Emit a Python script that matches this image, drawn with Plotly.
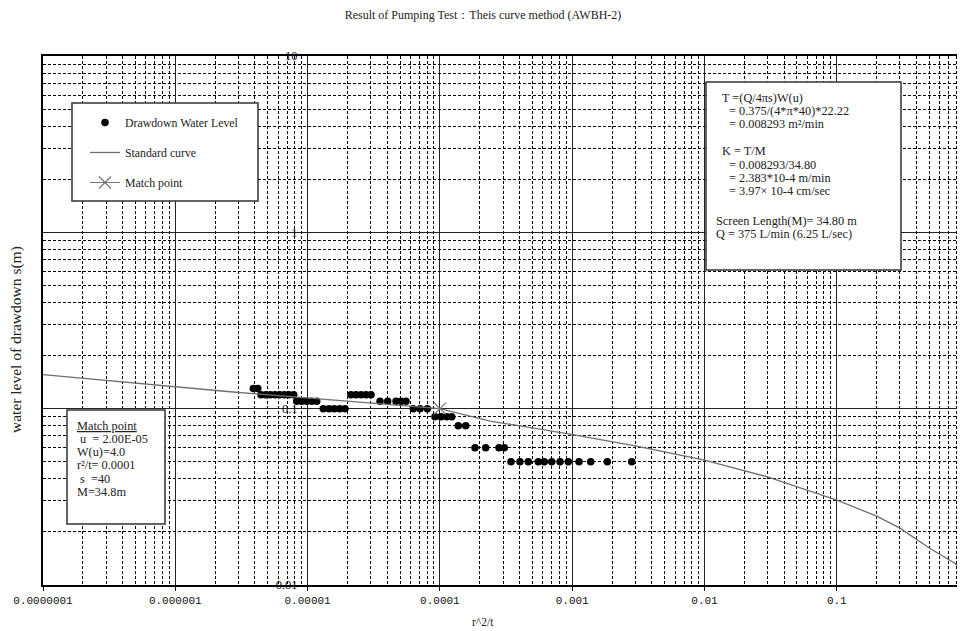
import plotly.graph_objects as go

# ---------------- data ----------------
title_text = "Result of Pumping Test\uff1aTheis curve method (AWBH-2)"
x_title = "r^2/t"
y_title = "water level of drawdown s(m)"

x_tick_vals = [1e-7, 1e-6, 1e-5, 1e-4, 1e-3, 1e-2, 1e-1]
x_tick_text = ["0.0000001", "0.000001", "0.00001", "0.0001", "0.001", "0.01", "0.1"]
y_tick_vals = [0.01, 0.1, 1, 10]
y_tick_text = ["0.01", "0.1", "1", "10"]

# observed drawdown (r^2/t , s)
drawdown_x = [
    3.89e-6, 4.20e-6,
    4.44e-6, 4.82e-6, 5.23e-6, 5.67e-6, 6.15e-6, 6.67e-6, 7.23e-6, 7.85e-6,
    8.27e-6, 9.02e-6, 9.84e-6, 1.074e-5, 1.172e-5,
    1.314e-5, 1.451e-5, 1.591e-5, 1.748e-5, 1.917e-5,
    2.128e-5, 2.322e-5, 2.533e-5, 2.763e-5, 3.015e-5,
    3.526e-5, 4.03e-5, 4.66e-5, 5.08e-5, 5.54e-5,
    6.29e-5, 7.07e-5, 8.03e-5,
    9.18e-5, 1.019e-4, 1.126e-4, 1.228e-4,
    1.377e-4, 1.567e-4,
    1.842e-4, 2.219e-4, 2.797e-4, 3.067e-4,
    3.446e-4, 4.03e-4, 4.66e-4, 5.54e-4, 6.15e-4, 7.0e-4, 8.09e-4, 9.34e-4,
    1.126e-3, 1.38e-3, 1.842e-3, 2.818e-3,
]
drawdown_y = (
    [0.13] * 2 + [0.12] * 8 + [0.11] * 5 + [0.10] * 5 + [0.12] * 5 + [0.11] * 5
    + [0.10] * 3 + [0.09] * 4 + [0.08] * 2 + [0.06] * 4 + [0.05] * 12
)

# Theis standard curve (matched)
curve_x = [1e-7, 2.59e-6, 1e-4, 2.39e-4, 9.6e-4, 3.07e-3, 0.01, 0.03, 0.1, 0.2, 0.3, 0.5, 0.78, 0.93]
curve_y = [0.156, 0.1247, 0.1, 0.0851, 0.0718, 0.0613, 0.051, 0.041, 0.0303, 0.0246, 0.021, 0.0162, 0.0133, 0.0117]

match_x = [1e-4]
match_y = [0.1]

legend_names = ["Drawdown Water Level", "Standard curve", "Match point"]

calc_lines = [
    "T =(Q/4\u03c0s)W(u)",
    "= 0.375/(4*\u03c0*40)*22.22",
    "= 0.008293 m\u00b2/min",
    "K = T/M",
    "= 0.008293/34.80",
    "= 2.383*10-4 m/min",
    "= 3.97\u00d7 10-4 cm/sec",
    "Screen Length(M)= 34.80 m",
    "Q = 375 L/min (6.25 L/sec)",
]
match_lines = [
    "<u>Match point</u>",
    "\u00a0u\u00a0\u00a0= 2.00E-05",
    "W(u)=4.0",
    "r\u00b2/t= 0.0001",
    "\u00a0s\u00a0\u00a0=40",
    "M=34.8m",
]

# ---------------- figure ----------------
SERIF = "Liberation Serif, Times New Roman, serif"
MONO = "Liberation Mono, DejaVu Sans Mono, monospace"

# the page body keeps its default 8px margin, so the figure is drawn 8px in
OFF = 8
W, H = 965 - OFF, 631 - OFF
PL, PR, PT, PB = 43, 965, 56, 585          # plot area in window pixels

x_minor = [k * 10 ** e for e in range(-7, 0) for k in range(2, 10)]
y_minor = [k * 10 ** e for e in range(-2, 1) for k in range(2, 10)]

fig = go.Figure()
fig.add_trace(go.Scatter(
    x=drawdown_x, y=drawdown_y, mode="markers", name=legend_names[0],
    legendgroup="a", marker=dict(color="black", size=7.5),
))
fig.add_trace(go.Scatter(
    x=curve_x, y=curve_y, mode="lines", name=legend_names[1],
    legendgroup="b", line=dict(color="#707070", width=1.3),
))
fig.add_trace(go.Scatter(
    x=match_x, y=match_y, mode="lines+markers", name=legend_names[2],
    legendgroup="c", yaxis="y2",
    line=dict(color="#777777", width=1),
    marker=dict(symbol="x-thin-open", size=12, line=dict(color="#888888", width=1.2)),
))

x_lo, x_hi = -7, -7 + (PR - PL) / 132.3


def px_x(p):
    return (p - PL) / (PR - PL)


def px_y(p):
    return (PB - p) / (PB - PT)


fig.update_layout(
    width=W, height=H,
    margin=dict(l=PL - OFF, r=0, t=PT - OFF, b=H - (PB - OFF), autoexpand=False),
    paper_bgcolor="white", plot_bgcolor="white",
    font=dict(family=SERIF, size=11, color="#222"),
    title=dict(text=title_text, x=(483 - OFF) / W, xanchor="center",
               y=1 - (15 - OFF) / H, yanchor="middle",
               font=dict(family=SERIF, size=12, color="#222")),
    showlegend=True,
    legend=dict(x=px_x(85), y=px_y(108), xanchor="left", yanchor="top",
                bgcolor="rgba(0,0,0,0)", borderwidth=0, tracegroupgap=11,
                font=dict(family=SERIF, size=11.8, color="#222")),
    xaxis=dict(
        type="log", range=[x_lo, x_hi], automargin=False,
        tickmode="array", tickvals=x_tick_vals, ticktext=x_tick_text,
        tickfont=dict(family=MONO, size=11, color="#111"),
        ticks="outside", ticklen=4, tickcolor="black",
        showgrid=True, gridcolor="#222", gridwidth=1.4,
        minor=dict(tickmode="array", tickvals=x_minor, showgrid=True,
                   gridcolor="black", gridwidth=1, griddash="3px,2px", ticks=""),
        showline=True, linecolor="black", linewidth=1.5, mirror=True,
        zeroline=False,
    ),
    yaxis=dict(
        type="log", range=[-2, 1], automargin=False,
        tickmode="array", tickvals=y_tick_vals, showticklabels=False, ticks="",
        showgrid=True, gridcolor="#222", gridwidth=1.4,
        minor=dict(tickmode="array", tickvals=y_minor, showgrid=True,
                   gridcolor="black", gridwidth=1, griddash="3px,2px", ticks=""),
        showline=True, linecolor="black", linewidth=1.5, mirror=True,
        zeroline=False,
    ),
    yaxis2=dict(
        type="log", range=[-2, 1], overlaying="y", anchor="free", automargin=False,
        position=(-5 - x_lo) / (x_hi - x_lo), side="left",
        tickmode="array", tickvals=y_tick_vals, ticktext=y_tick_text,
        tickfont=dict(family=SERIF, size=12.5, color="#111"),
        ticks="", ticklabelstandoff=10,
        showgrid=False, showline=False, zeroline=False,
    ),
)

box_style = dict(type="rect", xref="paper", yref="paper", fillcolor="white",
                 line=dict(color="#333", width=1.5), layer="above")

fig.add_shape(x0=px_x(72), x1=px_x(258), y0=px_y(201), y1=px_y(103), **box_style)
fig.add_shape(x0=px_x(706), x1=px_x(901), y0=px_y(270), y1=px_y(82), **box_style)
fig.add_shape(x0=px_x(67), x1=px_x(165), y0=px_y(524), y1=px_y(410), **box_style)

calc_x = [720, 727, 727, 720, 727, 727, 727, 714, 714]
calc_y = [97.7, 110.7, 123.7, 151, 164.7, 178, 191.3, 220.7, 233.7]
for t, cx, cy in zip(calc_lines, calc_x, calc_y):
    fig.add_annotation(
        text=t, xref="paper", yref="paper", x=px_x(cx), y=px_y(cy),
        xanchor="left", yanchor="middle", align="left", showarrow=False,
        font=dict(family=SERIF, size=12.3, color="#222"),
    )

match_y_px = [425.7, 439, 452, 465.3, 478.7, 491.7]
for t, cy in zip(match_lines, match_y_px):
    fig.add_annotation(
        text=t, xref="paper", yref="paper", x=px_x(75), y=px_y(cy),
        xanchor="left", yanchor="middle", align="left", showarrow=False,
        font=dict(family=SERIF, size=12.3, color="#222"),
    )

fig.add_annotation(
    text=x_title, xref="paper", yref="paper", x=px_x(483), y=px_y(622),
    xanchor="center", yanchor="middle", showarrow=False,
    font=dict(family=SERIF, size=11.5, color="#222"),
)
fig.add_annotation(
    text=y_title, xref="paper", yref="paper", x=px_x(16), y=px_y(340),
    xanchor="center", yanchor="middle", textangle=-90, showarrow=False,
    font=dict(family=SERIF, size=15.5, color="#222"),
)

fig.write_html("out.html")
